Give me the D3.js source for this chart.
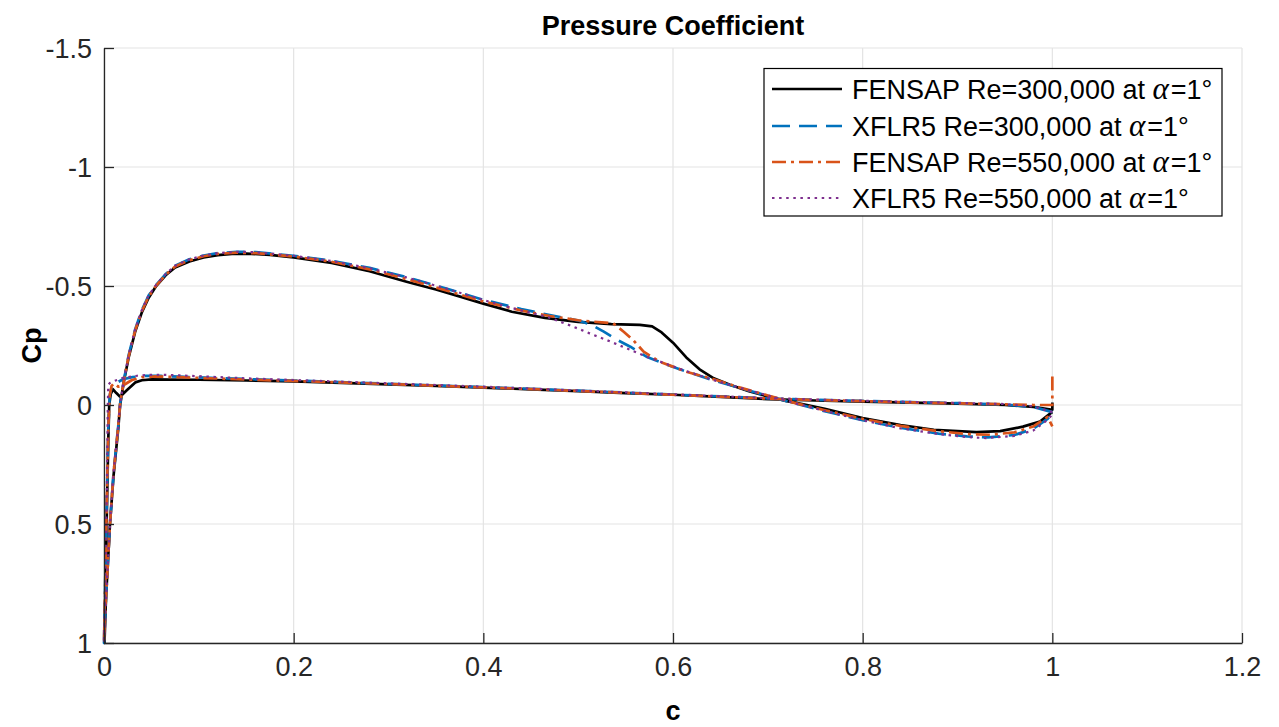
<!DOCTYPE html>
<html>
<head>
<meta charset="utf-8">
<script src="https://cdn.jsdelivr.net/npm/d3@7"></script>
<style>
  html, body { margin: 0; padding: 0; background: #fff; }
  svg { display: block; font-family: "Liberation Sans", Arial, Helvetica, sans-serif; }
</style>
</head>
<body>
<svg id="chart" width="1279" height="727"></svg>
<script>
// Chord position x/c and pressure coefficient Cp, [x, Cp] pairs.
// Upper = suction side, Lower = pressure side, both from leading to trailing edge.

const fensap300Upper = [
  [0.0005, 1.0], [0.002, 0.82], [0.0063, 0.5], [0.010, 0.3], [0.015, 0.1], [0.017, 0.0],
  [0.021, -0.1], [0.026, -0.2], [0.033, -0.31], [0.040, -0.39], [0.047, -0.45], [0.055, -0.5],
  [0.065, -0.545], [0.075, -0.578], [0.09, -0.603], [0.105, -0.62], [0.12, -0.63], [0.135, -0.635],
  [0.15, -0.636], [0.175, -0.631], [0.2, -0.62], [0.24, -0.597], [0.28, -0.562], [0.32, -0.517],
  [0.35, -0.485], [0.38, -0.45], [0.40, -0.426], [0.43, -0.392], [0.465, -0.366], [0.50, -0.349],
  [0.535, -0.34], [0.565, -0.337], [0.578, -0.33], [0.588, -0.305], [0.600, -0.262], [0.614, -0.2],
  [0.628, -0.15], [0.643, -0.112], [0.66, -0.085], [0.68, -0.058], [0.70, -0.036], [0.72, -0.016],
  [0.735, -0.005], [0.76, 0.016], [0.80, 0.055], [0.84, 0.084], [0.875, 0.104], [0.92, 0.114],
  [0.945, 0.11], [0.969, 0.091], [0.987, 0.07], [0.998, 0.035], [1.0, 0.03]
];
const fensap300Lower = [
  [0.0005, 1.0], [0.0015, 0.75], [0.003, 0.45], [0.0045, 0.15], [0.0055, 0.0], [0.007, -0.045],
  [0.0095, -0.066], [0.013, -0.05], [0.017, -0.035], [0.024, -0.062], [0.033, -0.095], [0.04, -0.104],
  [0.05, -0.108], [0.07, -0.107], [0.1, -0.106], [0.15, -0.103], [0.2, -0.099], [0.25, -0.093],
  [0.3, -0.087], [0.35, -0.08], [0.4, -0.073], [0.45, -0.066], [0.5, -0.058], [0.55, -0.05],
  [0.6, -0.043], [0.65, -0.034], [0.7, -0.025], [0.75, -0.019], [0.8, -0.014], [0.85, -0.01],
  [0.9, -0.006], [0.95, 0.0], [0.98, 0.008], [1.0, 0.02], [1.0, -0.01]
];

const xflr300Upper = [
  [0.0, 1.0], [0.002, 0.82], [0.0063, 0.5], [0.010, 0.29], [0.015, 0.09], [0.017, -0.005],
  [0.021, -0.105], [0.026, -0.21], [0.033, -0.32], [0.040, -0.4], [0.047, -0.46], [0.055, -0.505],
  [0.065, -0.55], [0.075, -0.585], [0.09, -0.612], [0.105, -0.628], [0.12, -0.638], [0.14, -0.644],
  [0.16, -0.642], [0.2, -0.627], [0.24, -0.606], [0.28, -0.576], [0.32, -0.536], [0.36, -0.49],
  [0.40, -0.442], [0.44, -0.403], [0.47, -0.378], [0.50, -0.355], [0.515, -0.335], [0.527, -0.308],
  [0.54, -0.276], [0.555, -0.245], [0.572, -0.203], [0.59, -0.175], [0.607, -0.15], [0.64, -0.107],
  [0.67, -0.072], [0.70, -0.038], [0.73, -0.005], [0.76, 0.026], [0.80, 0.064], [0.84, 0.096],
  [0.88, 0.12], [0.91, 0.132], [0.932, 0.136], [0.96, 0.126], [0.98, 0.1], [0.995, 0.058], [1.0, 0.035]
];
const xflr300Lower = [
  [0.0, 1.0], [0.0015, 0.7], [0.003, 0.4], [0.0045, 0.1], [0.006, -0.04], [0.008, -0.075],
  [0.012, -0.09], [0.02, -0.108], [0.03, -0.117], [0.045, -0.123], [0.06, -0.122], [0.08, -0.119],
  [0.1, -0.116], [0.15, -0.109], [0.2, -0.103], [0.25, -0.096], [0.3, -0.089], [0.35, -0.082],
  [0.4, -0.075], [0.45, -0.068], [0.5, -0.06], [0.55, -0.052], [0.6, -0.044], [0.65, -0.036],
  [0.7, -0.028], [0.75, -0.022], [0.8, -0.017], [0.85, -0.012], [0.9, -0.008], [0.95, -0.002],
  [0.98, 0.008], [1.0, 0.03]
];

const fensap550Upper = [
  [0.0, 1.0], [0.002, 0.82], [0.0063, 0.5], [0.010, 0.29], [0.015, 0.09], [0.017, -0.005],
  [0.021, -0.103], [0.026, -0.205], [0.033, -0.315], [0.040, -0.395], [0.047, -0.455], [0.055, -0.502],
  [0.065, -0.547], [0.075, -0.582], [0.09, -0.608], [0.105, -0.625], [0.12, -0.635], [0.14, -0.64],
  [0.16, -0.638], [0.2, -0.624], [0.24, -0.602], [0.28, -0.57], [0.32, -0.528], [0.36, -0.482],
  [0.40, -0.435], [0.44, -0.397], [0.47, -0.374], [0.50, -0.356], [0.525, -0.347], [0.537, -0.343],
  [0.548, -0.308], [0.558, -0.273], [0.569, -0.224], [0.586, -0.182], [0.614, -0.14], [0.643, -0.108],
  [0.67, -0.074], [0.70, -0.04], [0.73, -0.007], [0.76, 0.022], [0.80, 0.058], [0.84, 0.088],
  [0.88, 0.11], [0.91, 0.122], [0.935, 0.125], [0.96, 0.115], [0.98, 0.09], [0.995, 0.05],
  [1.0, 0.09]
];
const fensap550Lower = [
  [0.0, 1.0], [0.0015, 0.7], [0.003, 0.4], [0.0045, 0.1], [0.006, -0.04], [0.008, -0.08],
  [0.0105, -0.091], [0.015, -0.077], [0.02, -0.082], [0.0295, -0.105], [0.04, -0.117], [0.055, -0.12],
  [0.08, -0.117], [0.1, -0.114], [0.15, -0.107], [0.2, -0.101], [0.25, -0.095], [0.3, -0.088],
  [0.35, -0.081], [0.4, -0.074], [0.45, -0.067], [0.5, -0.059], [0.55, -0.051], [0.6, -0.043],
  [0.65, -0.035], [0.7, -0.027], [0.75, -0.021], [0.8, -0.016], [0.85, -0.011], [0.9, -0.007],
  [0.95, -0.003], [0.98, 0.0], [1.0, 0.0], [1.0, -0.12]
];

const xflr550Upper = [
  [0.0, 1.0], [0.002, 0.82], [0.0063, 0.5], [0.010, 0.29], [0.015, 0.09], [0.017, -0.005],
  [0.021, -0.105], [0.026, -0.21], [0.033, -0.32], [0.040, -0.4], [0.047, -0.46], [0.055, -0.505],
  [0.065, -0.55], [0.075, -0.585], [0.09, -0.612], [0.105, -0.628], [0.12, -0.638], [0.14, -0.644],
  [0.16, -0.642], [0.2, -0.627], [0.24, -0.605], [0.28, -0.575], [0.32, -0.535], [0.36, -0.49],
  [0.40, -0.441], [0.44, -0.397], [0.467, -0.371], [0.495, -0.329], [0.512, -0.301], [0.53, -0.273],
  [0.551, -0.238], [0.572, -0.203], [0.59, -0.177], [0.607, -0.152], [0.64, -0.108], [0.67, -0.073],
  [0.70, -0.04], [0.73, -0.006], [0.76, 0.025], [0.80, 0.064], [0.84, 0.098], [0.88, 0.122],
  [0.91, 0.135], [0.93, 0.139], [0.96, 0.13], [0.98, 0.107], [0.995, 0.062], [1.0, 0.04]
];
const xflr550Lower = [
  [0.0, 1.0], [0.0015, 0.7], [0.003, 0.35], [0.004, 0.0], [0.0045, -0.085], [0.006, -0.092],
  [0.01, -0.1], [0.02, -0.114], [0.035, -0.123], [0.05, -0.127], [0.07, -0.126], [0.1, -0.121],
  [0.15, -0.112], [0.2, -0.105], [0.25, -0.098], [0.3, -0.091], [0.35, -0.084], [0.4, -0.077],
  [0.45, -0.069], [0.5, -0.061], [0.55, -0.053], [0.6, -0.045], [0.65, -0.037], [0.7, -0.029],
  [0.75, -0.023], [0.8, -0.018], [0.85, -0.013], [0.9, -0.009], [0.95, -0.004], [0.98, 0.006],
  [1.0, 0.03]
];

const seriesLabels = [
  "FENSAP Re=300,000 at ",
  "XFLR5 Re=300,000 at ",
  "FENSAP Re=550,000 at ",
  "XFLR5 Re=550,000 at "
];
const xTicks = [0, 0.2, 0.4, 0.6, 0.8, 1, 1.2];
const yTicks = [-1.5, -1, -0.5, 0, 0.5, 1];
const tickText = d => String(d);

const series = [
  { label: seriesLabels[0], upper: fensap300Upper, lower: fensap300Lower, color: "#000000", width: 2.7, dash: null },
  { label: seriesLabels[1], upper: xflr300Upper,   lower: xflr300Lower,   color: "#0072BD", width: 2.7, dash: "18,9" },
  { label: seriesLabels[2], upper: fensap550Upper, lower: fensap550Lower, color: "#D95319", width: 2.7, dash: "14,5,3,5" },
  { label: seriesLabels[3], upper: xflr550Upper,   lower: xflr550Lower,   color: "#7E2F8E", width: 2.2, dash: "2.5,4.6" }
];

const svg = d3.select("#chart");
const margin = { left: 104, right: 37, top: 48, bottom: 84 };
const W = 1279, H = 727;
const x = d3.scaleLinear().domain([0, 1.2]).range([margin.left, W - margin.right]);
const y = d3.scaleLinear().domain([-1.5, 1]).range([margin.top, H - margin.bottom]);

const axisColor = "#262626";
const gridColor = "#e3e3e3";
const fontSize = 27;

// grid
const grid = svg.append("g");
grid.selectAll("line.gx").data(xTicks).join("line")
  .attr("x1", d => x(d)).attr("x2", d => x(d))
  .attr("y1", y.range()[0]).attr("y2", y.range()[1])
  .attr("stroke", gridColor).attr("stroke-width", 1.2);
grid.selectAll("line.gy").data(yTicks).join("line")
  .attr("y1", d => y(d)).attr("y2", d => y(d))
  .attr("x1", x.range()[0]).attr("x2", x.range()[1])
  .attr("stroke", gridColor).attr("stroke-width", 1.2);

// data curves: trailing edge -> pressure side -> leading edge -> suction side -> trailing edge
const line = d3.line().x(d => x(d[0])).y(d => y(d[1]));
const curves = svg.append("g");
series.forEach(s => {
  const pts = s.lower.slice().reverse().concat(s.upper);
  curves.append("path")
    .attr("d", line(pts))
    .attr("fill", "none")
    .attr("stroke", s.color)
    .attr("stroke-width", s.width)
    .attr("stroke-linejoin", "round")
    .attr("stroke-dasharray", s.dash);
});

// axes (ticks inward)
const xAxis = d3.axisBottom(x).tickValues(xTicks).tickSizeInner(-10).tickSizeOuter(0)
  .tickPadding(14).tickFormat(tickText);
const yAxis = d3.axisLeft(y).tickValues(yTicks).tickSizeInner(-10).tickSizeOuter(0)
  .tickPadding(12).tickFormat(tickText);

const gx = svg.append("g").attr("transform", `translate(0,${y.range()[1]})`).call(xAxis);
const gy = svg.append("g").attr("transform", `translate(${x.range()[0]},0)`).call(yAxis);
[gx, gy].forEach(g => {
  g.select(".domain").attr("stroke", axisColor).attr("stroke-width", 1.3);
  g.selectAll(".tick line").attr("stroke", axisColor).attr("stroke-width", 1.3);
  g.selectAll(".tick text").attr("fill", axisColor)
    .style("font-size", fontSize + "px")
    .style("font-family", "'Liberation Sans', Arial, sans-serif");
});
gx.selectAll(".tick text").attr("dy", "0.71em");
gy.selectAll(".tick text").attr("dy", "0.35em");

// title and axis labels
svg.append("text")
  .attr("x", (x.range()[0] + x.range()[1]) / 2).attr("y", 35)
  .attr("text-anchor", "middle").attr("font-weight", "bold")
  .attr("font-size", fontSize).attr("fill", "#000")
  .text("Pressure Coefficient");
svg.append("text")
  .attr("x", (x.range()[0] + x.range()[1]) / 2).attr("y", 720)
  .attr("text-anchor", "middle").attr("font-weight", "bold")
  .attr("font-size", fontSize).attr("fill", "#000")
  .text("c");
svg.append("text")
  .attr("transform", `translate(41,${(y.range()[0] + y.range()[1]) / 2}) rotate(-90)`)
  .attr("text-anchor", "middle").attr("font-weight", "bold")
  .attr("font-size", fontSize).attr("fill", "#000")
  .text("Cp");

// legend
const legend = svg.append("g");
legend.append("rect")
  .attr("x", 764).attr("y", 68.5).attr("width", 458).attr("height", 147.5)
  .attr("fill", "#fff").attr("stroke", "#000").attr("stroke-width", 1.2);
const rowY = [89, 126, 162, 198];
series.forEach((s, i) => {
  legend.append("line")
    .attr("x1", 772).attr("x2", 842)
    .attr("y1", rowY[i]).attr("y2", rowY[i])
    .attr("stroke", s.color).attr("stroke-width", s.width)
    .attr("stroke-dasharray", s.dash);
  const t = legend.append("text")
    .attr("x", 852).attr("y", rowY[i]).attr("dy", "0.36em")
    .attr("font-size", fontSize).attr("fill", "#000");
  t.append("tspan").text(s.label);
  t.append("tspan").attr("font-family", "'Liberation Serif', 'DejaVu Serif', serif")
    .attr("font-style", "italic").attr("font-size", 31).text("α");
  t.append("tspan").attr("dx", 2).text("=1°");
});
</script>
</body>
</html>
